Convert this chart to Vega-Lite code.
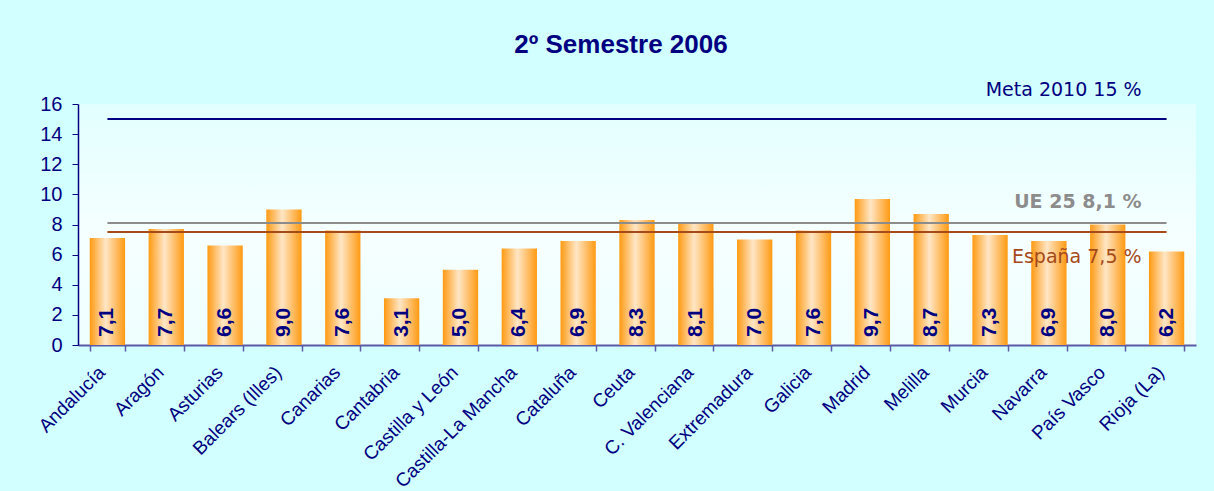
{
  "$schema": "https://vega.github.io/schema/vega-lite/v6.json",
  "width": 1118,
  "height": 241,
  "autosize": "none",
  "padding": {"left": 78, "top": 104, "right": 18, "bottom": 146},
  "background": "#d2ffff",
  "config": {
    "font": "Liberation Sans",
    "view": {
      "stroke": null,
      "fill": {
        "gradient": "linear",
        "x1": 0, "y1": 0, "x2": 0, "y2": 1,
        "stops": [
          {"offset": 0, "color": "#e2ffff"},
          {"offset": 0.55, "color": "#f6ffff"},
          {"offset": 1, "color": "#eefffe"}
        ]
      }
    },
    "axis": {"grid": false},
    "axisY": {
      "labelOverlap": false,
      "labelFontSize": 20,
      "labelColor": "#000080",
      "labelFont": "Liberation Sans",
      "domainColor": "#000080",
      "domainWidth": 1.5,
      "tickColor": "#000080",
      "tickSize": 6,
      "labelPadding": 10
    }
  },
  "title": {
    "text": "2º Semestre 2006",
    "fontSize": 26,
    "fontWeight": "bold",
    "color": "#000080",
    "font": "Liberation Sans",
    "anchor": "middle",
    "dx": -16,
    "baseline": "alphabetic",
    "offset": 2
  },
  "datasets": {
    "regions": [
      {"region": "Andalucía", "value": 7.1, "label": "7,1"},
      {"region": "Aragón", "value": 7.7, "label": "7,7"},
      {"region": "Asturias", "value": 6.6, "label": "6,6"},
      {"region": "Balears (Illes)", "value": 9.0, "label": "9,0"},
      {"region": "Canarias", "value": 7.6, "label": "7,6"},
      {"region": "Cantabria", "value": 3.1, "label": "3,1"},
      {"region": "Castilla y León", "value": 5.0, "label": "5,0"},
      {"region": "Castilla-La Mancha", "value": 6.4, "label": "6,4"},
      {"region": "Cataluña", "value": 6.9, "label": "6,9"},
      {"region": "Ceuta", "value": 8.3, "label": "8,3"},
      {"region": "C. Valenciana", "value": 8.1, "label": "8,1"},
      {"region": "Extremadura", "value": 7.0, "label": "7,0"},
      {"region": "Galicia", "value": 7.6, "label": "7,6"},
      {"region": "Madrid", "value": 9.7, "label": "9,7"},
      {"region": "Melilla", "value": 8.7, "label": "8,7"},
      {"region": "Murcia", "value": 7.3, "label": "7,3"},
      {"region": "Navarra", "value": 6.9, "label": "6,9"},
      {"region": "País Vasco", "value": 8.0, "label": "8,0"},
      {"region": "Rioja (La)", "value": 6.2, "label": "6,2"}
    ],
    "refs": [
      {"name": "Meta", "value": 15, "start": "Andalucía", "end": "Rioja (La)", "label": "Meta 2010 15 %"},
      {"name": "UE", "value": 8.1, "start": "Andalucía", "end": "Rioja (La)", "label": "UE 25 8,1 %"},
      {"name": "España", "value": 7.5, "start": "Andalucía", "end": "Rioja (La)", "label": "España 7,5 %"}
    ]
  },
  "encoding": {
    "x": {
      "field": "region",
      "type": "nominal",
      "scale": {
        "domain": ["Andalucía", "Aragón", "Asturias", "Balears (Illes)", "Canarias", "Cantabria", "Castilla y León", "Castilla-La Mancha", "Cataluña", "Ceuta", "C. Valenciana", "Extremadura", "Galicia", "Madrid", "Melilla", "Murcia", "Navarra", "País Vasco", "Rioja (La)"],
        "paddingInner": 0.4,
        "paddingOuter": 0.2
      },
      "axis": {
        "title": null,
        "labelAngle": -45,
        "labelAlign": "right",
        "labelBaseline": "middle",
        "labelOffset": -6,
        "labelFontSize": 19,
        "labelColor": "#000080",
        "labelFont": "Liberation Sans",
        "labelOverlap": false,
        "domainColor": "#5a5aa6",
        "domainWidth": 2,
        "tickColor": "#5a5aa6",
        "tickSize": 6,
        "tickWidth": 1.5,
        "tickBand": "extent",
        "labelPadding": 18
      }
    },
    "y": {
      "field": "value",
      "type": "quantitative",
      "scale": {"domain": [0, 16]},
      "axis": {"title": null, "values": [0, 2, 4, 6, 8, 10, 12, 14, 16], "labelOverlap": false}
    }
  },
  "layer": [
    {
      "data": {"name": "regions"},
      "mark": {
        "type": "bar",
        "color": {
          "gradient": "linear",
          "x1": 0, "y1": 0, "x2": 1, "y2": 0,
          "stops": [
            {"offset": 0, "color": "#ff9a12"},
            {"offset": 0.45, "color": "#ffe6c6"},
            {"offset": 1, "color": "#ff9a12"}
          ]
        }
      }
    },
    {
      "data": {"name": "refs"},
      "mark": {"type": "rule", "strokeWidth": 2},
      "encoding": {
        "x": {"field": "start", "type": "nominal"},
        "x2": {"field": "end"},
        "color": {
          "field": "name",
          "type": "nominal",
          "scale": {"domain": ["Meta", "UE", "España"], "range": ["#000080", "#8c8c8c", "#a64a1a"]},
          "legend": null
        }
      }
    },
    {
      "data": {"name": "regions"},
      "mark": {"type": "text", "angle": 270, "align": "left", "baseline": "middle", "dx": 8, "fontSize": 21, "fontWeight": "bold", "color": "#000080", "font": "Liberation Sans"},
      "encoding": {
        "y": {"datum": 0, "type": "quantitative"},
        "text": {"field": "label"}
      }
    },
    {
      "data": {"name": "refs"},
      "transform": [{"filter": "datum.name == 'Meta'"}],
      "mark": {"type": "text", "align": "right", "baseline": "alphabetic", "dx": -25, "dy": -23, "fontSize": 19, "color": "#000080", "font": "DejaVu Sans"},
      "encoding": {
        "x": {"field": "end", "type": "nominal"},
        "text": {"field": "label"}
      }
    },
    {
      "data": {"name": "refs"},
      "transform": [{"filter": "datum.name == 'UE'"}],
      "mark": {"type": "text", "align": "right", "baseline": "alphabetic", "dx": -25, "dy": -15, "fontSize": 19, "fontWeight": "bold", "color": "#8c8c8c", "font": "DejaVu Sans"},
      "encoding": {
        "x": {"field": "end", "type": "nominal"},
        "text": {"field": "label"}
      }
    },
    {
      "data": {"name": "refs"},
      "transform": [{"filter": "datum.name == 'España'"}],
      "mark": {"type": "text", "align": "right", "baseline": "alphabetic", "dx": -25, "dy": 31, "fontSize": 19, "color": "#a64a1a", "font": "DejaVu Sans"},
      "encoding": {
        "x": {"field": "end", "type": "nominal"},
        "text": {"field": "label"}
      }
    }
  ]
}
